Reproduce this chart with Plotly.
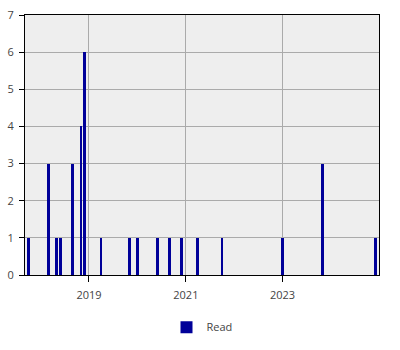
import plotly.graph_objects as go

months = ["2017-10-01", "2018-03-01", "2018-05-01", "2018-06-01", "2018-09-01",
          "2018-11-01", "2018-12-01", "2019-04-01", "2019-11-01", "2020-01-01",
          "2020-06-01", "2020-09-01", "2020-12-01", "2021-04-01", "2021-10-01",
          "2023-01-01", "2023-11-01", "2024-12-01"]
counts = [1, 3, 1, 1, 3, 4, 6, 1, 1, 1, 1, 1, 1, 1, 1, 1, 3, 1]
series_name = "Read"
tick_vals = ["2019-01-01", "2021-01-01", "2023-01-01"]
tick_text = ["2019", "2021", "2023"]

day_ms = 86400000
fig = go.Figure()
fig.add_trace(go.Bar(
    x=months, y=counts, name=series_name,
    marker=dict(color="#000099", line=dict(width=0)),
    width=[21 * day_ms] * len(months),
    showlegend=True,
))

fig.update_layout(
    width=400, height=350,
    margin=dict(l=25, r=21, t=15, b=75, autoexpand=False),
    paper_bgcolor="white",
    plot_bgcolor="#eeeeee",
    font=dict(family="Open Sans, DejaVu Sans, sans-serif", size=11, color="#444444"),
    showlegend=True,
    legend=dict(orientation="h", x=0.5, xanchor="center", y=-0.145, yanchor="top",
                font=dict(size=11, color="#444444")),
    bargap=0,
)
fig.update_xaxes(
    type="date",
    range=["2017-09-05", "2024-12-29"],
    tickvals=tick_vals, ticktext=tick_text,
    showgrid=True, gridcolor="#aaaaaa", gridwidth=1,
    showline=True, linecolor="black", linewidth=1, mirror=True,
    ticks="outside", ticklen=6, tickcolor="black",
    ticklabelstandoff=4,
    zeroline=False,
)
fig.update_yaxes(
    range=[0, 7], dtick=1,
    showgrid=True, gridcolor="#aaaaaa", gridwidth=1,
    showline=True, linecolor="black", linewidth=1, mirror=True,
    ticks="outside", ticklen=5, tickcolor="black",
    ticklabelstandoff=3,
    zeroline=False,
)

fig.write_html("out.html")
